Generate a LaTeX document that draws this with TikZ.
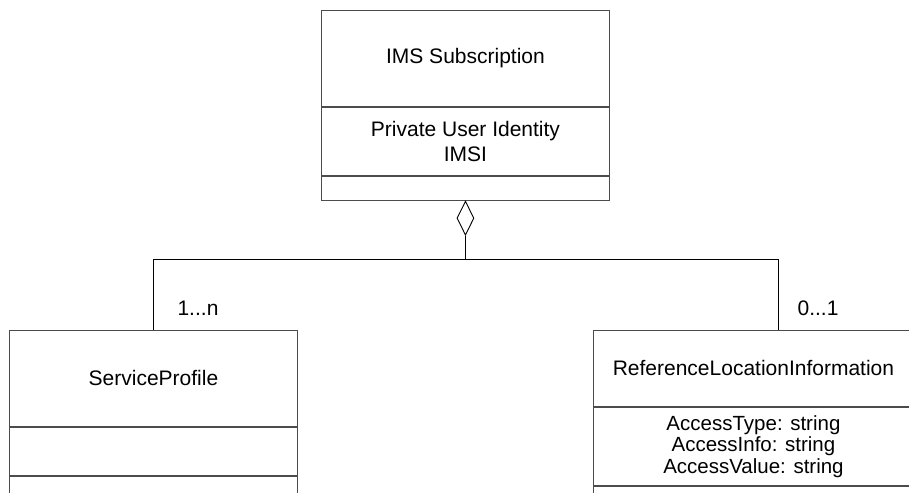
\documentclass[tikz,border=0pt]{standalone}
\usepackage{fontspec}
\setmainfont{Liberation Sans}
\usetikzlibrary{positioning}
\usetikzlibrary{shapes.geometric}

\begin{document}
\begin{tikzpicture}[x=1pt, y=-1pt, font=\fontsize{21}{25}\selectfont]

        % one compartment of a class box
        \tikzset{
            part/.style={draw=black!70, line width=0.9pt, rectangle,
                inner sep=0pt, anchor=north west, align=center},
            link/.style={draw=black, line width=0.9pt},
        }

        \useasboundingbox (0,0) rectangle (909,492);
        \clip (0,0) rectangle (909,492);

        % IMS Subscription
        \node (S1) [part, minimum width=288pt, minimum height=96pt]
            at (321,10) {IMS Subscription};
        \node (S2) [part, minimum width=288pt, minimum height=68pt,
            below=0pt of S1] {Private User Identity\\IMSI};
        \node (S3) [part, minimum width=288pt, minimum height=24pt,
            below=0pt of S2] {};

        % ServiceProfile
        \node (P1) [part, minimum width=288pt, minimum height=96pt]
            at (9,330) {ServiceProfile};
        \node (P2) [part, minimum width=288pt, minimum height=48pt,
            below=0pt of P1] {};
        \node (P3) [part, minimum width=288pt, minimum height=40pt,
            below=0pt of P2] {};

        % ReferenceLocationInformation
        \node (R1) [part, minimum width=320pt, minimum height=76pt]
            at (593,330) {ReferenceLocationInformation};
        \node (R2) [part, minimum width=320pt, minimum height=78pt,
            below=0pt of R1, font=\fontsize{20.5}{21.5}\selectfont]
            {AccessType: string\\AccessInfo: string\\AccessValue: string};
        \node (R3) [part, minimum width=320pt, minimum height=30pt,
            below=0pt of R2] {};

        % aggregation
        \node (D) [diamond, link, minimum width=17pt, minimum height=34pt,
            inner sep=0pt, below=0pt of S3] {};

        \coordinate (JL) at (153,259);
        \coordinate (JR) at (778,259);
        \coordinate (JM) at (D.south |- JL);

        \draw[link] (D.south) -- (JM);
        \draw[link] (JL |- P1.north) -- (JL) -- (JR) -- (JR |- R1.north);

        % multiplicities
        \node (M1) at (198,308) {1...n};
        \node (M2) at (818,308) {0...1};

\end{tikzpicture}
\end{document}
